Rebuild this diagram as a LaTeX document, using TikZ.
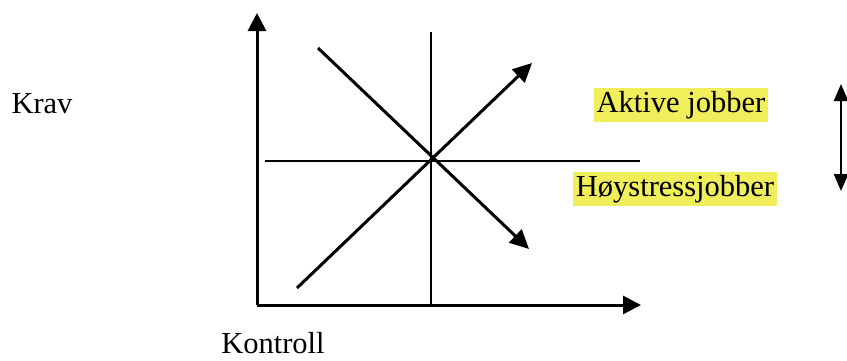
\documentclass[tikz,border=0pt]{standalone}
\usepackage{xcolor}
\usepackage{fontspec}
\setmainfont{Liberation Serif}
\usetikzlibrary{arrows.meta, positioning}
\definecolor{markgul}{RGB}{240,238,90}
\tikzset{
    akse/.style={line width=3pt, -{Triangle[length=18pt,width=18pt]}},
    linje/.style={line width=2.8pt},
    pil/.style={line width=3pt, -{Triangle[length=19pt,width=18pt]}},
    dobbelpil/.style={line width=2.4pt, {Triangle[length=17pt,width=14pt]}-{Triangle[length=17pt,width=14pt]}},
    tekst/.style={font=\fontsize{30.5}{36}\selectfont, inner sep=0pt},
    merket/.style={tekst, fill=markgul, inner xsep=3pt, inner ysep=3pt}
}

\begin{document}
\begin{tikzpicture}[x=1pt, y=-1pt]
    \useasboundingbox (0,0) rectangle (847,360);

    % Punkter
    \coordinate (O) at (257,305);
    \coordinate (ytopp) at (257,13);
    \coordinate (xende) at (641,305);
    \coordinate (vtopp) at (431,32);
    \coordinate (vbunn) at (431,305);
    \coordinate (hstart) at (265,161);
    \coordinate (hslutt) at (640,161);
    \coordinate (opp0) at (297,288);
    \coordinate (opp1) at (532,63);
    \coordinate (ned0) at (318,48);
    \coordinate (ned1) at (529,249);
    \coordinate (dp0) at (841,84);
    \coordinate (dp1) at (841,191);

    % Akser
    \draw[akse] (O) -- (ytopp);
    \draw[akse] (O) -- (xende);

    % Kryss
    \draw[linje] (vtopp) -- (vbunn);
    \draw[linje] (hstart) -- (hslutt);

    % Diagonaler
    \draw[pil] (opp0) -- (opp1);
    \draw[pil] (ned0) -- (ned1);

    % Dobbelpil
    \draw[dobbelpil] (dp0) -- (dp1);

    % Etiketter
    \node[tekst] (krav) at (42,104) {Krav};
    \node[tekst] (kontroll) at (273,343) {Kontroll};
    \node[merket] (aktiv) at (681,105) {Aktive jobber};
    \node[merket] (hoy) at (675,189) {Høystressjobber};
\end{tikzpicture}
\end{document}
